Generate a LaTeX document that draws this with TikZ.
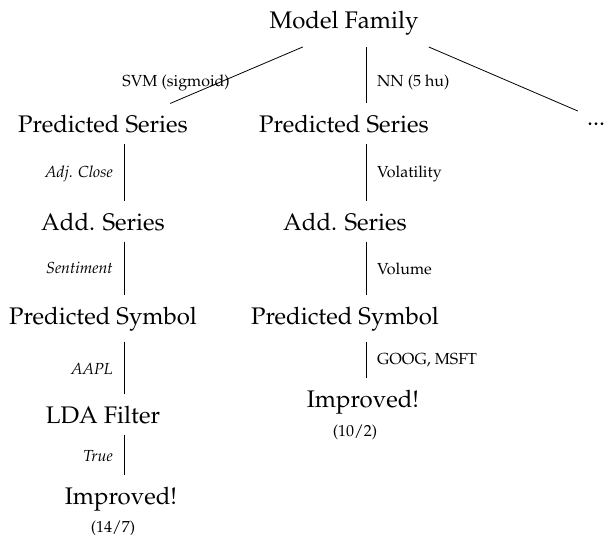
\documentclass[tikz,border=0pt]{standalone}
\usepackage[T1]{fontenc}
\usepackage{mathpazo}
\tikzstyle{tree} = [x = 1pt, y = -1pt]
\tikzstyle{treeNode} = [font=\fontsize{24}{28}\selectfont, anchor=base, inner xsep=2pt, inner ysep=11pt]
\tikzstyle{edgeLabel} = [font=\fontsize{16}{19}\selectfont, inner sep=0pt]
\tikzstyle{scoreText} = [font=\fontsize{16}{19}\selectfont, anchor=base, inner sep=0pt]
\tikzstyle{treeEdge} = [color=black, line width=.8pt]
\newcommand{\leftLabel}[3]{\node [edgeLabel, anchor=base east] (#1) at (113,#2) {\textit{#3}};}
\newcommand{\rightLabel}[3]{\node [edgeLabel, anchor=base west] (#1) at (377,#2) {#3};}
\newcommand{\columnEdge}[3]{\draw [treeEdge] (#2.south -| #1) -- (#3.north -| #1);}

\begin{document}
\begin{tikzpicture}[tree]
\useasboundingbox (0,0) rectangle (606,535);
% points the first level edges aim at
\coordinate (rootHub) at (366,20);
\coordinate (leftHub) at (122,124);
\coordinate (dotsHub) at (608,124);
\coordinate (leftCol) at (124,0);
\coordinate (midCol) at (366,0);
% tree nodes
\node [treeNode] (root) at (344,29) {Model Family};
\node [treeNode] (seriesA) at (103,132) {Predicted Series};
\node [treeNode] (seriesB) at (344,132) {Predicted Series};
\node [treeNode] (more) at (596,125) {...};
\node [treeNode] (addA) at (103,230) {Add. Series};
\node [treeNode] (addB) at (345,230) {Add. Series};
\node [treeNode] (symbolA) at (103,324) {Predicted Symbol};
\node [treeNode] (symbolB) at (345,324) {Predicted Symbol};
\node [treeNode] (ldaA) at (103,423) {LDA Filter};
\node [treeNode] (improvedA) at (121,504) {Improved!};
\node [treeNode] (improvedB) at (363,407) {Improved!};
\node [scoreText] (scoreA) at (113,532) {(14/7)};
\node [scoreText] (scoreB) at (355,436) {(10/2)};
% edges
\draw [treeEdge] (intersection of rootHub--leftHub and root.south west--root.south east) -- (intersection of rootHub--leftHub and seriesA.north west--seriesA.north east);
\draw [treeEdge] (intersection of rootHub--dotsHub and root.south west--root.south east) -- (intersection of rootHub--dotsHub and more.north west--more.north east);
\columnEdge{midCol}{root}{seriesB}
\columnEdge{leftCol}{seriesA}{addA}
\columnEdge{leftCol}{addA}{symbolA}
\columnEdge{leftCol}{symbolA}{ldaA}
\columnEdge{leftCol}{ldaA}{improvedA}
\columnEdge{midCol}{seriesB}{addB}
\columnEdge{midCol}{addB}{symbolB}
\columnEdge{midCol}{symbolB}{improvedB}
% edge labels
\node [edgeLabel, anchor=base east] (svmLabel) at (230,87) {SVM (sigmoid)};
\node [edgeLabel, anchor=base west] (nnLabel) at (377,87) {NN (5 hu)};
\leftLabel{closeLabel}{177}{Adj. Close}
\leftLabel{sentimentLabel}{273}{Sentiment}
\leftLabel{aaplLabel}{374}{AAPL}
\leftLabel{trueLabel}{461}{True}
\rightLabel{volatilityLabel}{177}{Volatility}
\rightLabel{volumeLabel}{274}{Volume}
\rightLabel{symbolsLabel}{364}{GOOG, MSFT}
\end{tikzpicture}
\end{document}
